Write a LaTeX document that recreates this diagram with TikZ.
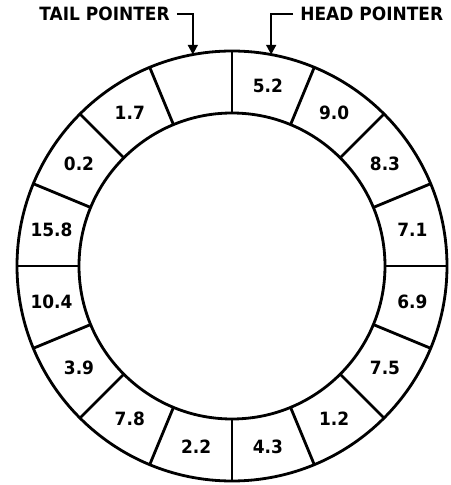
\documentclass[tikz,border=0pt]{standalone}
\usepackage{fontspec}
\usetikzlibrary{arrows.meta}
\newfontfamily\lbl[FakeStretch=0.93]{DejaVu Sans Bold}

\begin{document}
\begin{tikzpicture}[
    ring/.style={line width=1.6pt},
    cell/.style={font=\lbl\fontsize{10.4}{12}\selectfont},
    ptr/.style={font=\lbl\fontsize{10.4}{12}\selectfont, inner sep=4pt},
    ptrline/.style={line width=1.3pt, -{Triangle[width=5.5pt,length=5.5pt]}}
]
    \useasboundingbox (-4.64,-4.38) rectangle (4.36,5.32);

    % Ring of 16 cells
    \draw[ring] (0,0) circle (4.3);
    \draw[ring] (0,0) circle (3.06);
    \foreach \a in {0,22.5,...,337.5} {
        \draw[ring] (90+\a:3.06) -- (90+\a:4.3);
    }

    % Values, clockwise from the top (first cell is empty)
    \foreach \v [count=\k] in {5.2,9.0,8.3,7.1,6.9,7.5,1.2,4.3,2.2,7.8,3.9,10.4,15.8,0.2,1.7} {
        \node[cell] (cell\k) at (101.25-22.5*\k:3.68) {\v};
    }

    % Pointers
    \coordinate (tailtip) at (100.5:4.3);
    \coordinate (headtip) at (79.5:4.3);
    \node[ptr, anchor=east] (tail) at (-1.1,5.04) {TAIL POINTER};
    \node[ptr, anchor=west] (head) at (1.22,5.04) {HEAD POINTER};
    \draw[ptrline] (tail.east) -| (tailtip);
    \draw[ptrline] (head.west) -| (headtip);
\end{tikzpicture}
\end{document}
